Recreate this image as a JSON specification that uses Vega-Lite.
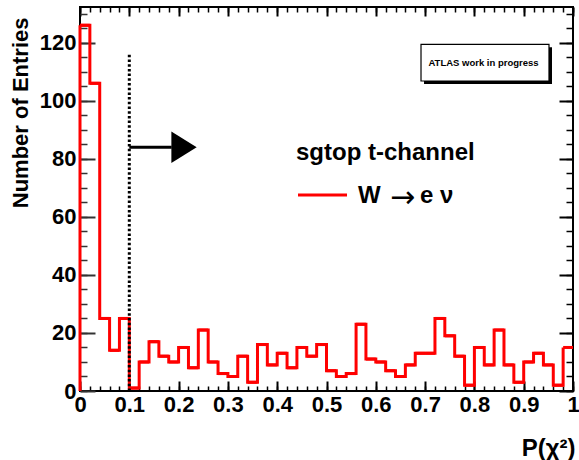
{
  "$schema": "https://vega.github.io/schema/vega-lite/v6.json",
  "autosize": {"type": "none"},
  "padding": {"left": 80, "top": 7, "right": 6, "bottom": 69},
  "width": 493,
  "height": 384,
  "background": "white",
  "config": {
    "font": "Liberation Sans",
    "view": {"stroke": "black", "strokeWidth": 2},
    "axis": {"domain": false, "labelFont": "Liberation Sans", "titleFont": "Liberation Sans"}
  },
  "resolve": {"axis": {"x": "independent", "y": "independent"}},
  "data": {"values": [
    {"lo":0,"hi":0.02,"n":126},{"lo":0.02,"hi":0.04,"n":106},{"lo":0.04,"hi":0.06,"n":25},{"lo":0.06,"hi":0.08,"n":14},{"lo":0.08,"hi":0.1,"n":25},
    {"lo":0.1,"hi":0.12,"n":1},{"lo":0.12,"hi":0.14,"n":10},{"lo":0.14,"hi":0.16,"n":17},{"lo":0.16,"hi":0.18,"n":12},{"lo":0.18,"hi":0.2,"n":10},
    {"lo":0.2,"hi":0.22,"n":15},{"lo":0.22,"hi":0.24,"n":8},{"lo":0.24,"hi":0.26,"n":21},{"lo":0.26,"hi":0.28,"n":10},{"lo":0.28,"hi":0.3,"n":6},
    {"lo":0.3,"hi":0.32,"n":5},{"lo":0.32,"hi":0.34,"n":12},{"lo":0.34,"hi":0.36,"n":3},{"lo":0.36,"hi":0.38,"n":16},{"lo":0.38,"hi":0.4,"n":9},
    {"lo":0.4,"hi":0.42,"n":13},{"lo":0.42,"hi":0.44,"n":8},{"lo":0.44,"hi":0.46,"n":15},{"lo":0.46,"hi":0.48,"n":12},{"lo":0.48,"hi":0.5,"n":16},
    {"lo":0.5,"hi":0.52,"n":7},{"lo":0.52,"hi":0.54,"n":5},{"lo":0.54,"hi":0.56,"n":6},{"lo":0.56,"hi":0.58,"n":23},{"lo":0.58,"hi":0.6,"n":11},
    {"lo":0.6,"hi":0.62,"n":10},{"lo":0.62,"hi":0.64,"n":7},{"lo":0.64,"hi":0.66,"n":5},{"lo":0.66,"hi":0.68,"n":9},{"lo":0.68,"hi":0.7,"n":13},
    {"lo":0.7,"hi":0.72,"n":13},{"lo":0.72,"hi":0.74,"n":25},{"lo":0.74,"hi":0.76,"n":19},{"lo":0.76,"hi":0.78,"n":12},{"lo":0.78,"hi":0.8,"n":2},
    {"lo":0.8,"hi":0.82,"n":15},{"lo":0.82,"hi":0.84,"n":9},{"lo":0.84,"hi":0.86,"n":21},{"lo":0.86,"hi":0.88,"n":9},{"lo":0.88,"hi":0.9,"n":3},
    {"lo":0.9,"hi":0.92,"n":10},{"lo":0.92,"hi":0.94,"n":13},{"lo":0.94,"hi":0.96,"n":9},{"lo":0.96,"hi":0.98,"n":2},{"lo":0.98,"hi":1,"n":15}
  ]},
  "layer": [
    {
      "mark": {"type": "line", "interpolate": "step-after", "color": "#ff0000", "strokeWidth": 3},
      "encoding": {
        "x": {"field": "lo", "type": "quantitative", "scale": {"domain": [0, 1], "nice": false, "zero": false},
          "axis": {"orient": "bottom", "grid": false, "values": [0,0.1,0.2,0.3,0.4,0.5,0.6,0.7,0.8,0.9,1], "ticks": false, "labelPadding": 3, "format": ".1~f", "labelFontSize": 22, "labelFontWeight": "bold", "labelColor": "black", "labelFlush": false, "labelOverlap": false,
            "title": "P(χ²)", "titleFontSize": 24, "titleFontWeight": "bold", "titleColor": "black", "titleAnchor": "end", "titleAlign": "right", "titleBaseline": "alphabetic", "titleX": 495, "titleY": 64}},
        "y": {"field": "n", "type": "quantitative", "scale": {"domain": [0, 132.3], "nice": false, "zero": false},
          "axis": {"orient": "left", "grid": false, "values": [0,20,40,60,80,100,120], "ticks": false, "labelPadding": 4, "labelFontSize": 22, "labelFontWeight": "bold", "labelColor": "black", "labelFlush": false, "labelOverlap": false,
            "title": "Number of Entries", "titleFontSize": 22, "titleFontWeight": "bold", "titleColor": "black", "titleAngle": -90, "titleAnchor": "end", "titleAlign": "right", "titleBaseline": "alphabetic", "titleX": -53, "titleY": 10}}
      }
    },
    {
      "mark": {"type": "rule", "color": "#ff0000", "strokeWidth": 3},
      "encoding": {
        "x": {"field": "lo", "type": "quantitative", "scale": {"domain": [0, 1], "nice": false, "zero": false},
          "axis": {"orient": "top", "offset": -384, "grid": false, "values": [0,0.1,0.2,0.3,0.4,0.5,0.6,0.7,0.8,0.9,1], "tickSize": 10, "tickWidth": 2, "tickColor": "black", "labels": false, "title": null}},
        "x2": {"field": "hi"},
        "y": {"field": "n", "type": "quantitative", "scale": {"domain": [0, 132.3], "nice": false, "zero": false},
          "axis": {"orient": "right", "offset": -493, "grid": false, "values": [0,20,40,60,80,100,120], "tickSize": 15, "tickWidth": 2, "tickColor": "#333333", "labels": false, "title": null}}
      }
    },
    {
      "transform": [{"filter": "datum.lo == 0"}],
      "mark": {"type": "rule", "color": "#ff0000", "strokeWidth": 3},
      "encoding": {
        "x": {"field": "lo", "type": "quantitative", "scale": {"domain": [0, 1], "nice": false, "zero": false},
          "axis": {"orient": "top", "offset": -384, "grid": false, "values": [0,0.02,0.04,0.06,0.08,0.1,0.12,0.14,0.16,0.18,0.2,0.22,0.24,0.26,0.28,0.3,0.32,0.34,0.36,0.38,0.4,0.42,0.44,0.46,0.48,0.5,0.52,0.54,0.56,0.58,0.6,0.62,0.64,0.66,0.68,0.7,0.72,0.74,0.76,0.78,0.8,0.82,0.84,0.86,0.88,0.9,0.92,0.94,0.96,0.98,1], "tickSize": 5, "tickWidth": 1.5, "tickColor": "black", "labels": false, "title": null}},
        "y": {"field": "n", "type": "quantitative", "scale": {"domain": [0, 132.3], "nice": false, "zero": false},
          "axis": {"orient": "right", "offset": -493, "grid": false, "values": [0,5,10,15,20,25,30,35,40,45,50,55,60,65,70,75,80,85,90,95,100,105,110,115,120,125,130], "tickSize": 7, "tickWidth": 1.5, "tickColor": "#333333", "labels": false, "title": null}},
        "y2": {"datum": 0}
      }
    },
    {
      "data": {"values": [{}]},
      "mark": {"type": "rule", "color": "black", "strokeWidth": 3, "strokeDash": [2.5, 2.2]},
      "encoding": {
        "x": {"datum": 0.1, "type": "quantitative", "scale": {"domain": [0, 1], "nice": false, "zero": false},
          "axis": {"orient": "bottom", "offset": -384, "grid": false, "values": [0,0.1,0.2,0.3,0.4,0.5,0.6,0.7,0.8,0.9,1], "tickSize": 9, "tickWidth": 2, "tickColor": "black", "labels": false, "title": null}},
        "y": {"datum": 0, "type": "quantitative", "scale": {"domain": [0, 132.3], "nice": false, "zero": false},
          "axis": {"orient": "left", "offset": -493, "grid": false, "values": [0,20,40,60,80,100,120], "tickSize": 14, "tickWidth": 2, "tickColor": "black", "labels": false, "title": null}},
        "y2": {"datum": 116.3}
      }
    },
    {
      "data": {"values": [{}]},
      "mark": {"type": "rule", "color": "black", "strokeWidth": 3},
      "encoding": {
        "x": {"datum": 0.1, "type": "quantitative", "scale": {"domain": [0, 1], "nice": false, "zero": false},
          "axis": {"orient": "bottom", "offset": -384, "grid": false, "values": [0,0.02,0.04,0.06,0.08,0.1,0.12,0.14,0.16,0.18,0.2,0.22,0.24,0.26,0.28,0.3,0.32,0.34,0.36,0.38,0.4,0.42,0.44,0.46,0.48,0.5,0.52,0.54,0.56,0.58,0.6,0.62,0.64,0.66,0.68,0.7,0.72,0.74,0.76,0.78,0.8,0.82,0.84,0.86,0.88,0.9,0.92,0.94,0.96,0.98,1], "tickSize": 5, "tickWidth": 1.5, "tickColor": "black", "labels": false, "title": null}},
        "x2": {"datum": 0.186},
        "y": {"datum": 84, "type": "quantitative", "scale": {"domain": [0, 132.3], "nice": false, "zero": false},
          "axis": {"orient": "left", "offset": -493, "grid": false, "values": [0,5,10,15,20,25,30,35,40,45,50,55,60,65,70,75,80,85,90,95,100,105,110,115,120,125,130], "tickSize": 7, "tickWidth": 1.5, "tickColor": "black", "labels": false, "title": null}}
      }
    },
    {
      "data": {"values": [{}]},
      "mark": {"type": "point", "shape": "M-0.8,-1L0.8,0L-0.8,1Z", "size": 1000, "filled": true, "color": "black", "opacity": 1},
      "encoding": {
        "x": {"datum": 0.211, "type": "quantitative", "scale": {"domain": [0, 1], "nice": false, "zero": false}, "axis": null},
        "y": {"datum": 84, "type": "quantitative", "scale": {"domain": [0, 132.3], "nice": false, "zero": false}, "axis": null}
      }
    },
    {
      "data": {"values": [{}]},
      "mark": {"type": "rect", "color": "black", "opacity": 1},
      "encoding": {
        "x": {"datum": 0.6978, "type": "quantitative", "scale": {"domain": [0, 1], "nice": false, "zero": false}, "axis": null},
        "x2": {"datum": 0.9574},
        "y": {"datum": 118.4, "type": "quantitative", "scale": {"domain": [0, 132.3], "nice": false, "zero": false}, "axis": null},
        "y2": {"datum": 105.8}
      }
    },
    {
      "data": {"values": [{}]},
      "mark": {"type": "rect", "fill": "white", "stroke": "black", "strokeWidth": 1.2, "opacity": 1},
      "encoding": {
        "x": {"datum": 0.6917, "type": "quantitative", "scale": {"domain": [0, 1], "nice": false, "zero": false}, "axis": null},
        "x2": {"datum": 0.9513},
        "y": {"datum": 119.45, "type": "quantitative", "scale": {"domain": [0, 132.3], "nice": false, "zero": false}, "axis": null},
        "y2": {"datum": 106.8}
      }
    },
    {
      "data": {"values": [{}]},
      "mark": {"type": "text", "text": "ATLAS work in progress", "align": "center", "baseline": "alphabetic", "fontSize": 9.5, "fontWeight": "bold", "color": "black"},
      "encoding": {
        "x": {"datum": 0.8185, "type": "quantitative", "scale": {"domain": [0, 1], "nice": false, "zero": false}, "axis": null},
        "y": {"datum": 112.1, "type": "quantitative", "scale": {"domain": [0, 132.3], "nice": false, "zero": false}, "axis": null}
      }
    },
    {
      "data": {"values": [{}]},
      "mark": {"type": "text", "text": "sgtop t-channel", "align": "left", "baseline": "alphabetic", "fontSize": 24, "fontWeight": "bold", "color": "black"},
      "encoding": {
        "x": {"datum": 0.4381, "type": "quantitative", "scale": {"domain": [0, 1], "nice": false, "zero": false}, "axis": null},
        "y": {"datum": 79.6, "type": "quantitative", "scale": {"domain": [0, 132.3], "nice": false, "zero": false}, "axis": null}
      }
    },
    {
      "data": {"values": [{}]},
      "mark": {"type": "rule", "color": "#ff0000", "strokeWidth": 3},
      "encoding": {
        "x": {"datum": 0.4422, "type": "quantitative", "scale": {"domain": [0, 1], "nice": false, "zero": false}, "axis": null},
        "x2": {"datum": 0.5416},
        "y": {"datum": 67.5, "type": "quantitative", "scale": {"domain": [0, 132.3], "nice": false, "zero": false}, "axis": null}
      }
    },
    {
      "data": {"values": [{}]},
      "mark": {"type": "text", "text": "W", "align": "left", "baseline": "alphabetic", "fontSize": 24, "fontWeight": "bold", "color": "black"},
      "encoding": {
        "x": {"datum": 0.5639, "type": "quantitative", "scale": {"domain": [0, 1], "nice": false, "zero": false}, "axis": null},
        "y": {"datum": 64.8, "type": "quantitative", "scale": {"domain": [0, 132.3], "nice": false, "zero": false}, "axis": null}
      }
    },
    {
      "data": {"values": [{}]},
      "mark": {"type": "text", "text": "→", "font": "DejaVu Sans", "align": "center", "baseline": "alphabetic", "fontSize": 30, "fontWeight": "normal", "color": "black"},
      "encoding": {
        "x": {"datum": 0.6542, "type": "quantitative", "scale": {"domain": [0, 1], "nice": false, "zero": false}, "axis": null},
        "y": {"datum": 63.5, "type": "quantitative", "scale": {"domain": [0, 132.3], "nice": false, "zero": false}, "axis": null}
      }
    },
    {
      "data": {"values": [{}]},
      "mark": {"type": "text", "text": "e ν", "align": "left", "baseline": "alphabetic", "fontSize": 24, "fontWeight": "bold", "color": "black"},
      "encoding": {
        "x": {"datum": 0.6897, "type": "quantitative", "scale": {"domain": [0, 1], "nice": false, "zero": false}, "axis": null},
        "y": {"datum": 64.8, "type": "quantitative", "scale": {"domain": [0, 132.3], "nice": false, "zero": false}, "axis": null}
      }
    }
  ]
}
